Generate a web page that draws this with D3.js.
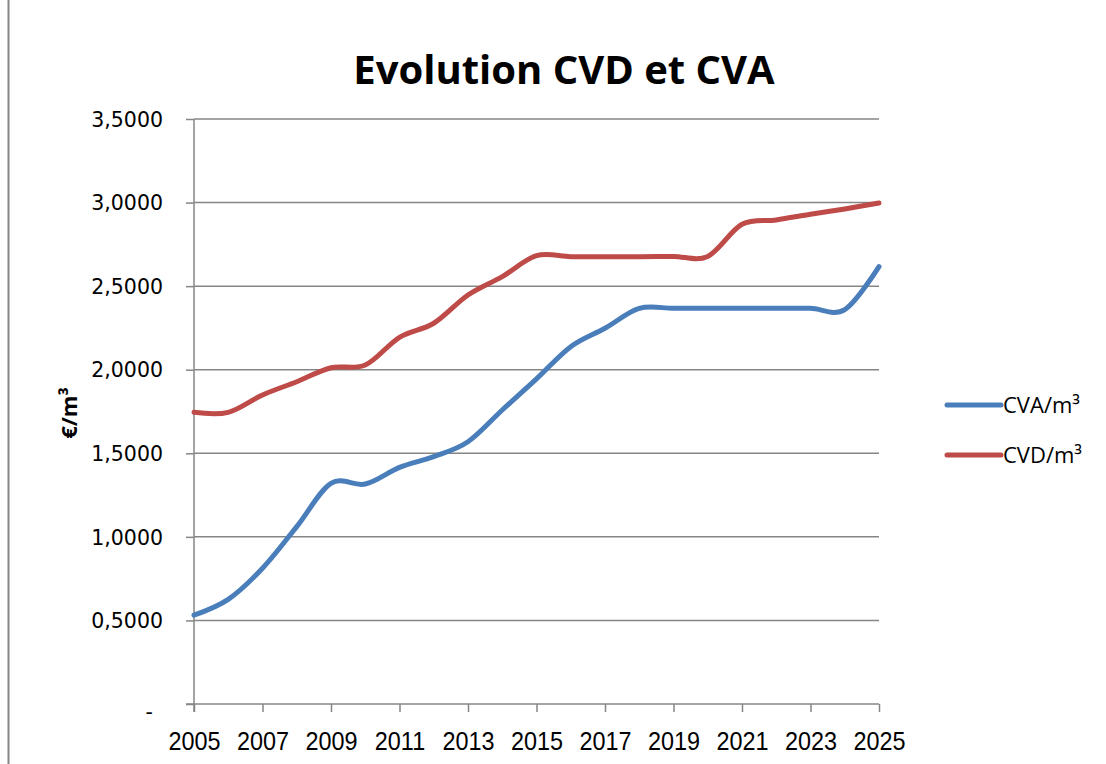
<!DOCTYPE html>
<html>
<head>
<meta charset="utf-8">
<script src="https://cdn.jsdelivr.net/npm/d3@7"></script>
<style>
  body { margin: 0; background: #fff; }
  svg { display: block; }
</style>
</head>
<body>
<div id="chart"></div>
<script>
// data
let years = d3.range(2005, 2026);
let cva = [0.532, 0.626, 0.812, 1.061, 1.32, 1.316, 1.416, 1.48, 1.569, 1.759, 1.945,
  2.138, 2.248, 2.367, 2.367, 2.367, 2.367, 2.367, 2.367, 2.36, 2.617];
let cvd = [1.745, 1.745, 1.849, 1.928, 2.012, 2.028, 2.194, 2.278, 2.447, 2.557, 2.682,
  2.676, 2.676, 2.676, 2.678, 2.678, 2.87, 2.896, 2.93, 2.962, 2.997];
let yTicks = [0, 0.5, 1, 1.5, 2, 2.5, 3, 3.5];
let xTicks = d3.range(2005, 2026, 2);
let seriesNames = ["CVA/m³", "CVD/m³"];
let colors = ["#4a7ebb", "#be4b48"];

let width = 1106,
  height = 764;
let plot = { left: 194, right: 879, top: 119, bottom: 704 };

let svg = d3
  .select("#chart")
  .append("svg")
  .attr("width", width)
  .attr("height", height);

// chart area border on the left
svg
  .append("line")
  .attr("x1", 8.5)
  .attr("x2", 8.5)
  .attr("y1", 0)
  .attr("y2", height)
  .attr("stroke", "#868686")
  .attr("stroke-width", 2);

let x = d3.scaleLinear().domain([2005, 2025]).range([plot.left, plot.right]);
let y = d3.scaleLinear().domain([0, 3.5]).range([plot.bottom, plot.top]);

let fr = d3.formatLocale({ decimal: ",", thousands: " ", grouping: [3], currency: ["", "€"] });
let fmt = fr.format(".4f");

// horizontal gridlines
svg
  .append("g")
  .selectAll("line")
  .data(yTicks.filter((t) => t > 0))
  .join("line")
  .attr("x1", plot.left)
  .attr("x2", plot.right)
  .attr("y1", (d) => y(d))
  .attr("y2", (d) => y(d))
  .attr("stroke", "#868686")
  .attr("stroke-width", 1.5);

// y axis
let yAxis = svg
  .append("g")
  .attr("transform", `translate(${plot.left},0)`)
  .call(
    d3
      .axisLeft(y)
      .tickValues(yTicks)
      .tickSize(8)
      .tickPadding(23)
      .tickFormat((d) => (d === 0 ? "-" : fmt(d)))
  );
yAxis.select(".domain").remove();
yAxis
  .append("line")
  .attr("x1", 0)
  .attr("x2", 0)
  .attr("y1", plot.top)
  .attr("y2", plot.bottom + 8)
  .attr("stroke", "#868686")
  .attr("stroke-width", 1.5);
yAxis.selectAll(".tick line").attr("stroke", "#868686").attr("stroke-width", 1.5);
yAxis
  .selectAll(".tick text")
  .attr("font-family", "DejaVu Sans")
  .attr("font-size", 20.5)
  .attr("fill", "#000")
  .attr("dx", (d) => (d === 0 ? -10 : 0))
  .attr("dy", (d) => (d === 0 ? "0.7em" : "0.35em"));

// x axis
let xAxis = svg
  .append("g")
  .attr("transform", `translate(0,${plot.bottom})`)
  .call(d3.axisBottom(x).tickValues(xTicks).tickSize(8).tickPadding(20).tickFormat(d3.format("d")));
xAxis.select(".domain").remove();
xAxis
  .append("line")
  .attr("x1", plot.left - 8)
  .attr("x2", plot.right)
  .attr("y1", 0)
  .attr("y2", 0)
  .attr("stroke", "#868686")
  .attr("stroke-width", 1.5);
xAxis.selectAll(".tick line").attr("stroke", "#868686").attr("stroke-width", 1.5);
xAxis
  .selectAll(".tick text")
  .attr("font-family", "Liberation Sans")
  .attr("font-size", 26)
  .attr("fill", "#000")
  .attr("transform", "scale(0.9,1)");

// lines
let line = d3
  .line()
  .x((d, i) => x(years[i]))
  .y((d) => y(d))
  .curve(d3.curveCardinal.tension(0));

[cva, cvd].forEach((s, i) => {
  svg
    .append("path")
    .datum(s)
    .attr("d", line)
    .attr("fill", "none")
    .attr("stroke", colors[i])
    .attr("stroke-width", 5)
    .attr("stroke-linecap", "round")
    .attr("stroke-linejoin", "round");
});

// title
svg
  .append("text")
  .attr("x", 564)
  .attr("y", 84)
  .attr("text-anchor", "middle")
  .attr("font-family", "Open Sans")
  .attr("font-weight", "bold")
  .attr("font-size", 40)
  .text("Evolution CVD et CVA");

// y axis title
svg
  .append("text")
  .attr("transform", "translate(77,413) rotate(-90)")
  .attr("text-anchor", "middle")
  .attr("font-family", "Open Sans")
  .attr("font-weight", "bold")
  .attr("font-size", 22)
  .text("€/m³");

// legend
let legend = svg
  .append("g")
  .selectAll("g")
  .data(seriesNames)
  .join("g")
  .attr("transform", (d, i) => `translate(945,${405 + i * 50})`);
legend
  .append("line")
  .attr("x1", 2)
  .attr("x2", 56)
  .attr("stroke", (d, i) => colors[i])
  .attr("stroke-width", 5)
  .attr("stroke-linecap", "round");
legend
  .append("text")
  .attr("x", 58)
  .attr("dy", "0.35em")
  .attr("font-family", "Open Sans")
  .attr("font-size", 22)
  .text((d) => d);
</script>
</body>
</html>
